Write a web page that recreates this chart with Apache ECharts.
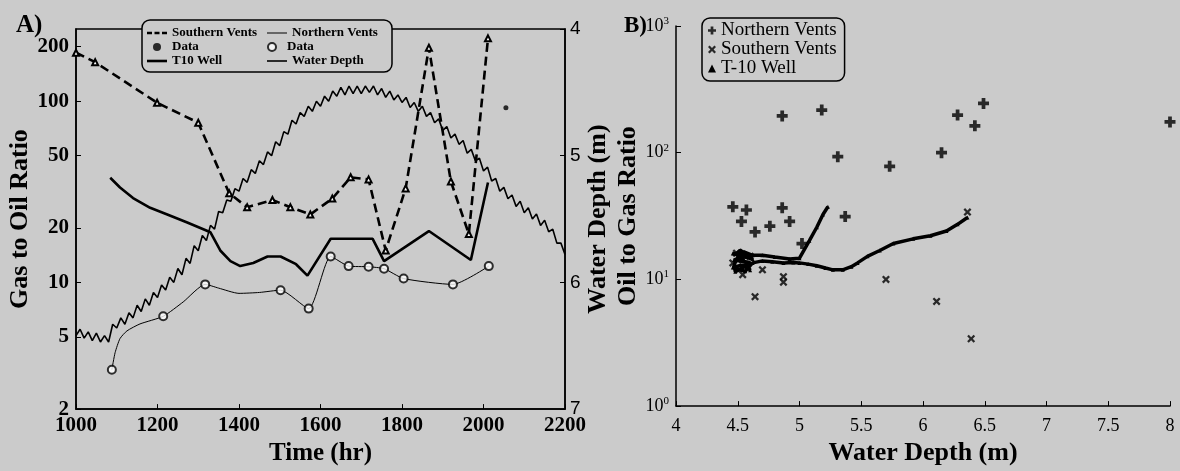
<!DOCTYPE html>
<html><head><meta charset="utf-8">
<script src="https://cdn.jsdelivr.net/npm/echarts@6/dist/echarts.min.js"></script>
<style>html,body{margin:0;padding:0;background:#cbcbcb}#c{width:1180px;height:471px}</style>
</head><body><div id="c"></div>
<script>
// ---------- Panel A data ----------
const timeTicks = [1000, 1200, 1400, 1600, 1800, 2000, 2200];
const gorTicks = [2, 5, 10, 20, 50, 100, 200];
const depthTicks = [4, 5, 6, 7];

const southernTime = [1000,1047,1199,1300,1376,1420,1482,1526,1575,1629,1674,1718,1760,1809,1866,1920,1964,2011];
const southernGOR  = [185,164,98,76,31,26,28.5,26,23.7,29,38,37,15,33,197,36,18.5,222];
const southernDataTime = [2055];
const southernDataGOR  = [92];

const northernTime = [1088,1096,1108,1125,1157,1214,1263,1317,1350,1400,1450,1502,1571,1625,1669,1718,1756,1804,1925,2013];
const northernGOR  = [3.3,4.1,4.9,5.4,5.9,6.5,7.8,9.75,9.3,8.7,8.8,9.06,7.17,13.9,12.3,12.2,11.9,10.5,9.75,12.3];
const northernDataTime = [1088,1214,1317,1502,1571,1625,1669,1718,1756,1804,1925,2013];
const northernDataGOR  = [3.3,6.5,9.75,9.06,7.17,13.9,12.3,12.2,11.9,10.5,9.75,12.3];

const t10Time = [1084,1108,1140,1182,1224,1273,1330,1354,1379,1403,1435,1470,1502,1540,1568,1625,1728,1756,1866,1969,2011];
const t10GOR  = [37.8,33.4,29.2,25.8,23.7,21.4,18.9,15.0,13.1,12.3,12.8,13.9,13.9,12.6,10.9,17.4,17.4,13.1,19.2,13.3,35.6];

const waterStartHr = 1000, waterStepHr = 10;
const waterDepth = [
 6.42,6.37,6.44,6.39,6.46,6.40,6.47,6.42,6.47,6.33,
 6.36,6.28,6.33,6.24,6.28,6.18,6.23,6.13,6.18,6.08,
 6.12,6.02,6.06,5.96,6.00,5.89,5.94,5.81,5.85,5.71,
 5.75,5.63,5.67,5.55,5.58,5.44,5.45,5.35,5.36,5.26,
 5.28,5.18,5.21,5.11,5.14,5.04,5.07,4.97,5.00,4.89,
 4.92,4.81,4.83,4.72,4.75,4.66,4.69,4.61,4.65,4.57,
 4.61,4.53,4.57,4.49,4.53,4.46,4.52,4.45,4.51,4.45,
 4.51,4.45,4.50,4.45,4.52,4.47,4.54,4.49,4.56,4.52,
 4.58,4.54,4.62,4.58,4.65,4.61,4.69,4.66,4.74,4.71,
 4.80,4.77,4.86,4.83,4.91,4.88,4.98,4.95,5.04,5.02,
 5.12,5.09,5.20,5.18,5.28,5.25,5.34,5.31,5.40,5.36,
 5.45,5.41,5.50,5.46,5.55,5.51,5.60,5.58,5.69,5.69,
 5.78
];

// ---------- Panel B data ----------
const depthTicksB = [4, 4.5, 5, 5.5, 6, 6.5, 7, 7.5, 8];
const bNorthDepth = [4.46,4.57,4.53,4.64,4.76,4.86,4.92,5.02,5.37,4.86,5.18,5.31,5.73,6.15,6.28,6.42,6.49,8.0];
const bNorthOGR   = [37.4,35.3,28.7,23.7,26.3,36.7,28.7,19.2,31.3,195,217,93,78,100,198,163,245,175];
const bSouthDepth = [4.46,4.49,4.54,4.60,4.54,4.70,4.64,4.87,4.87,5.70,6.11,6.39,6.36];
const bSouthOGR   = [13.5,16.1,14.2,15.2,10.9,11.9,7.3,9.5,10.5,10.0,6.7,3.4,34];
const t10Depth = [5.23,5.19,5.14,5.08,5.00,4.92,4.80,4.70,4.62,4.55,4.50,4.47,4.48,4.52,4.58,4.60,4.55,4.49,4.52,4.62,4.46,4.58,4.47,4.60,4.46,4.56,4.62,4.70,4.78,4.87,4.95,5.00,5.07,5.14,5.21,5.27,5.35,5.42,5.47,5.55,5.65,5.76,5.92,6.06,6.19,6.28,6.36];
const t10OGR   = [37.4,32.5,25.8,20.2,14.7,14.5,15,15.5,15.5,16.5,15,13,11.5,12,13,11.8,14,16,17,14.5,16,15.8,14.2,13.6,12.4,11.6,13.5,14,13.8,13.5,13.6,13.5,13.2,12.8,12.3,11.9,11.9,12.6,13.5,15.2,16.9,19.2,20.9,22.1,24.1,27.2,30.8];

// ---------- build ----------
const zip = (a, b) => a.map((v, i) => [v, b[i]]);
const waterData = waterDepth.map((d, i) => [waterStartHr + i * waterStepHr, d]);
const SERIF = 'Liberation Serif';
const PLUS = 'path://M3.3,0H6.7V3.3H10V6.7H6.7V10H3.3V6.7H0V3.3H3.3Z';
const CROSS = 'path://M2,0L5,3L8,0L10,2L7,5L10,8L8,10L5,7L2,10L0,8L3,5L0,2Z';
const ICON_DASH = 'path://M0,0H5V2.4H0Z M7.5,0H12.5V2.4H7.5Z M15,0H20V2.4H15Z';
const ICON_THICK = 'path://M0,0H20V2.6H0Z';
const ICON_THIN = 'path://M0,0H20V1H0Z';
const ICON_MED = 'path://M0,0H20V1.6H0Z';
const blk = '#000';
const BG = '#cbcbcb';

const chart = echarts.init(document.getElementById('c'), null, {renderer: 'canvas'});
chart.setOption({
  backgroundColor: BG,
  animation: false,
  title: [
    {text: 'A)', left: 11, top: 8, textStyle: {fontFamily: SERIF, fontWeight: 'bold', fontSize: 25, color: blk}},
    {text: 'B)', left: 619, top: 10, textStyle: {fontFamily: SERIF, fontWeight: 'bold', fontSize: 23, color: blk}}
  ],
  grid: [
    {left: 76, right: 615, top: 29, bottom: 50, show: true, borderColor: blk, borderWidth: 1.5, backgroundColor: 'transparent'},
    {left: 676, right: 10, top: 26, bottom: 53}
  ],
  legend: [
    {
      left: 142, top: 20, width: 245, orient: 'horizontal',
      data: [
        {name: 'Southern Vents', icon: ICON_DASH},
        {name: 'Northern Vents', icon: ICON_THIN},
        {name: 'Southern Data', icon: 'circle'},
        {name: 'Northern Data', icon: 'emptyCircle'},
        {name: 'T10 Well', icon: ICON_THICK},
        {name: 'Water Depth', icon: ICON_MED}
      ],
      formatter: n => n.endsWith('Data') ? 'Data' : n,
      itemWidth: 20, itemHeight: 8, itemGap: 0,
      padding: [6, 5, 4, 5],
      textStyle: {fontFamily: SERIF, fontWeight: 'bold', fontSize: 13, color: blk, width: 95, lineHeight: 14, overflow: 'truncate'},
      borderColor: blk, borderWidth: 1.5, borderRadius: 8, backgroundColor: BG,
      selectedMode: false
    },
    {
      left: 702, top: 18, orient: 'vertical',
      data: [
        {name: 'B Northern Vents', icon: PLUS},
        {name: 'B Southern Vents', icon: CROSS},
        {name: 'B T-10 Well', icon: 'triangle'}
      ],
      formatter: n => n.slice(2),
      itemWidth: 8, itemHeight: 8, itemGap: 0,
      padding: [3, 8, 3, 6],
      textStyle: {fontFamily: SERIF, fontSize: 19, color: blk, lineHeight: 18},
      borderColor: blk, borderWidth: 1.5, borderRadius: 8, backgroundColor: BG,
      selectedMode: false
    }
  ],
  xAxis: [
    {
      gridIndex: 0, type: 'value', min: 1000, max: 2200, interval: 200,
      axisLine: {lineStyle: {color: blk, width: 1.5}},
      axisTick: {inside: true, length: 5, lineStyle: {color: blk}},
      axisLabel: {color: blk, fontFamily: SERIF, fontWeight: 'bold', fontSize: 21, margin: 6, formatter: v => String(v)},
      splitLine: {show: false},
      name: 'Time (hr)', nameLocation: 'middle', nameGap: 27,
      nameTextStyle: {color: blk, fontFamily: SERIF, fontWeight: 'bold', fontSize: 25}
    },
    {
      gridIndex: 1, type: 'value', min: 4, max: 8, interval: 0.5,
      axisLine: {lineStyle: {color: blk, width: 1.5}},
      axisTick: {inside: true, length: 5, lineStyle: {color: blk}},
      axisLabel: {color: blk, fontFamily: SERIF, fontSize: 18, margin: 11, formatter: v => String(v)},
      splitLine: {show: false},
      name: 'Water Depth (m)', nameLocation: 'middle', nameGap: 29,
      nameTextStyle: {color: blk, fontFamily: SERIF, fontWeight: 'bold', fontSize: 26}
    }
  ],
  yAxis: [
    {
      gridIndex: 0, type: 'log', min: 2, max: 250, position: 'left',
      axisLine: {show: true, lineStyle: {color: blk, width: 1.5}},
      axisTick: {show: true, inside: true, length: 5, lineStyle: {color: blk}, customValues: gorTicks},
      axisLabel: {color: blk, fontFamily: SERIF, fontWeight: 'bold', fontSize: 21, margin: 7, customValues: gorTicks},
      splitLine: {show: false}, minorTick: {show: false},
      name: 'Gas to Oil Ratio', nameLocation: 'middle', nameGap: 40,
      nameTextStyle: {color: blk, fontFamily: SERIF, fontWeight: 'bold', fontSize: 26}
    },
    {
      gridIndex: 0, type: 'value', min: 4, max: 7, interval: 1, inverse: true, position: 'right',
      axisLine: {show: true, lineStyle: {color: blk, width: 1.5}},
      axisTick: {show: true, inside: true, length: 5, lineStyle: {color: blk}},
      axisLabel: {color: blk, fontFamily: 'Liberation Sans', fontSize: 19, margin: 5},
      splitLine: {show: false},
      name: 'Water Depth (m)', nameLocation: 'middle', nameGap: 20,
      nameTextStyle: {color: blk, fontFamily: SERIF, fontWeight: 'bold', fontSize: 26}
    },
    {
      gridIndex: 1, type: 'log', min: 1, max: 1000,
      axisLine: {show: true, lineStyle: {color: blk, width: 1.5}},
      axisTick: {show: true, inside: true, length: 5, lineStyle: {color: blk}},
      axisLabel: {
        color: blk, fontFamily: SERIF, fontSize: 18, margin: 7,
        formatter: v => '10{s|' + Math.round(Math.log10(v)) + '}',
        rich: {s: {fontFamily: SERIF, fontSize: 11, color: blk, verticalAlign: 'top', padding: [0, 0, 10, 0]}}
      },
      splitLine: {show: false},
      name: 'Oil to Gas Ratio', nameLocation: 'middle', nameGap: 26,
      nameTextStyle: {color: blk, fontFamily: SERIF, fontWeight: 'bold', fontSize: 26}
    }
  ],
  series: [
    {
      name: 'Southern Vents', type: 'line', xAxisIndex: 0, yAxisIndex: 0,
      data: zip(southernTime, southernGOR),
      symbol: 'emptyTriangle', symbolSize: 6, showAllSymbol: true,
      lineStyle: {color: blk, width: 2.6, type: [9, 5]}, itemStyle: {color: blk, borderWidth: 1}, z: 3
    },
    {
      name: 'Southern Data', type: 'scatter', xAxisIndex: 0, yAxisIndex: 0,
      data: zip(southernDataTime, southernDataGOR),
      symbol: 'circle', symbolSize: 5, itemStyle: {color: blk}
    },
    {
      name: 'T10 Well', type: 'line', xAxisIndex: 0, yAxisIndex: 0,
      data: zip(t10Time, t10GOR), symbol: 'none',
      lineStyle: {color: blk, width: 2.6}, itemStyle: {color: blk}
    },
    {
      name: 'Northern Vents', type: 'line', xAxisIndex: 0, yAxisIndex: 0,
      data: zip(northernTime, northernGOR), symbol: 'none', smooth: 0.2,
      lineStyle: {color: blk, width: 1}, itemStyle: {color: blk}
    },
    {
      name: 'Northern Data', type: 'scatter', xAxisIndex: 0, yAxisIndex: 0,
      data: zip(northernDataTime, northernDataGOR),
      symbol: 'emptyCircle', symbolSize: 8, itemStyle: {color: blk, borderWidth: 1.3}, z: 4
    },
    {
      name: 'Water Depth', type: 'line', xAxisIndex: 0, yAxisIndex: 1,
      data: waterData, symbol: 'none',
      lineStyle: {color: blk, width: 1.6}, itemStyle: {color: blk}
    },
    {
      name: 'B Northern Vents', type: 'scatter', xAxisIndex: 1, yAxisIndex: 2,
      data: zip(bNorthDepth, bNorthOGR), symbol: PLUS, symbolSize: 11, itemStyle: {color: blk}
    },
    {
      name: 'B Southern Vents', type: 'scatter', xAxisIndex: 1, yAxisIndex: 2,
      data: zip(bSouthDepth, bSouthOGR), symbol: CROSS, symbolSize: 8, itemStyle: {color: blk}
    },
    {
      name: 'B T-10 Well', type: 'line', xAxisIndex: 1, yAxisIndex: 2,
      data: zip(t10Depth, t10OGR), symbol: 'triangle', symbolSize: 4, showAllSymbol: true,
      lineStyle: {color: blk, width: 3.5}, itemStyle: {color: blk}
    }
  ]
});
</script>
</body></html>
